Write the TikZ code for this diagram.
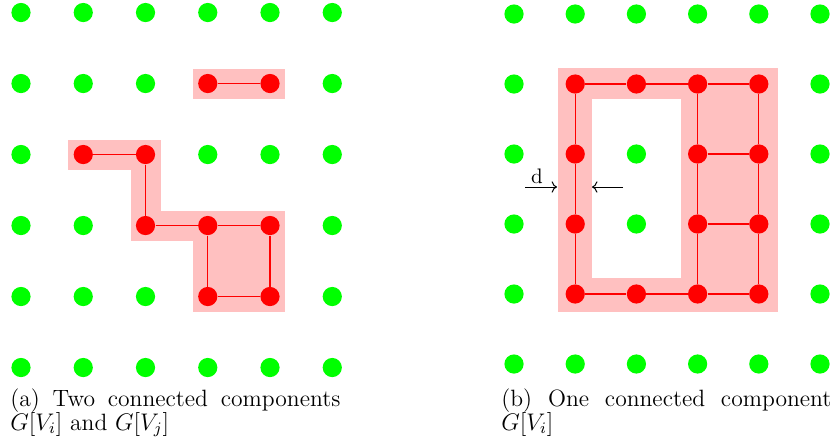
\documentclass[tikz,border=0pt]{standalone}
\usepackage{tikz}
\usetikzlibrary{arrows.meta,backgrounds}
\definecolor{gGreen}{HTML}{00FF00}
\definecolor{gRed}{HTML}{FF0000}
\definecolor{gPink}{HTML}{FFC0C0}
\newcommand{\leftred}{3-1,4-1,1-2,2-2,2-3,3-3,4-3,3-4,4-4}
\newcommand{\rightred}{1-1,2-1,3-1,4-1,1-2,3-2,4-2,1-3,3-3,4-3,1-4,2-4,3-4,4-4}
\makeatletter
\newcommand{\pickcolor}[2]{% vertex x-y, list of red vertices
  \edef\redtest{\noexpand\in@{,#1,}{,#2,}}\redtest
  \ifin@\def\dotcol{gRed}\else\def\dotcol{gGreen}\fi}
\makeatother

\begin{document}
\begin{tikzpicture}[x=0.5pt,y=-0.5pt,
  dot/.style={circle,inner sep=0pt,minimum size=9.6pt},
  link/.style={gRed,line width=0.6pt},
  region/.style={fill=gPink},
  caption/.style={font=\fontsize{11.8}{12}\selectfont,text width=165pt,align=justify,inner sep=0pt,anchor=base west}]
  \useasboundingbox (0,0) rectangle (834,446);
  % left grid
  \foreach \x in {0,...,5}{
    \foreach \y in {0,...,5}{
      \pickcolor{\x-\y}{\leftred}
      \node[dot,fill=\dotcol] (l\x\y) at ({21+62.25*\x},{12.5+71*\y}) {};
    }
  }
  % right grid
  \foreach \x in {0,...,5}{
    \foreach \y in {0,...,5}{
      \pickcolor{\x-\y}{\rightred}
      \node[dot,fill=\dotcol] (r\x\y) at ({514+61.2*\x},{14+70*\y}) {};
    }
  }
  \begin{scope}[on background layer]
    \foreach \a/\b in {l31/l41,l12/l22,l22/l23,l23/l43,l33/l44}
      \fill[region] ([shift={(-15,-15)}]\a.center) rectangle ([shift={(15,15)}]\b.center);
    \foreach \a/\b/\bx/\by in {r11/r41/19/15,r14/r44/19/18,r11/r14/17/18,r31/r44/19/18}
      \fill[region] ([shift={(-17,-16)}]\a.center) rectangle ([shift={(\bx,\by)}]\b.center);
  \end{scope}
  \foreach \a/\b in {l31/l41,l12/l22,l22/l23,l23/l33,l33/l43,l33/l34,l43/l44,l34/l44}
    \draw[link] (\a) -- (\b);
  \foreach \a/\b in {r11/r21,r21/r31,r31/r41,r14/r24,r24/r34,r34/r44,
                     r11/r12,r12/r13,r13/r14,r31/r32,r32/r33,r33/r34,
                     r41/r42,r42/r43,r43/r44,r32/r42,r33/r43}
    \draw[link] (\a) -- (\b);
  % width d of the band
  \coordinate (dl) at (525,187);
  \coordinate (dlend) at (557,187);
  \coordinate (dr) at (623,187);
  \coordinate (drend) at (592,187);
  \draw[->,line width=0.5pt] (dl) -- (dlend);
  \draw[->,line width=0.5pt] (dr) -- (drend);
  \node[font=\fontsize{10.5}{12}\selectfont,anchor=base,inner sep=0pt] (dlabel) at (537,183) {d};
  % captions
  \node[caption] (capa) at (10,406) {(a) Two connected components $G[V_i]$ and $G[V_j]$};
  \node[caption] (capb) at (501,406) {(b) One connected component $G[V_i]$};
\end{tikzpicture}
\end{document}
